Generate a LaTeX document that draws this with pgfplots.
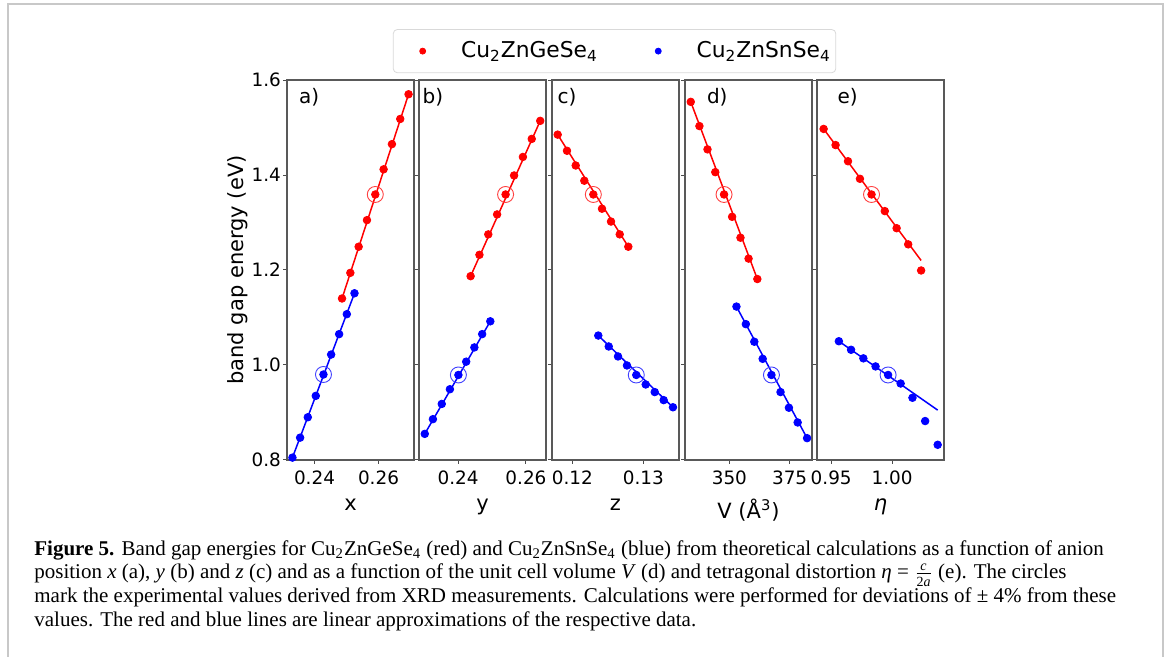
\documentclass[border=0pt]{standalone}
\usepackage{pgfplots}
\pgfplotsset{compat=1.18}
\usepackage{fontspec}
\setmainfont{Liberation Serif}
\newfontfamily\dejavu{DejaVu Sans}

\definecolor{framegray}{RGB}{200,200,200}

\pgfplotsset{
  panel/.style={
    scale only axis,
    width=63.5pt, height=190pt,
    anchor=south west,
    ymin=0.8, ymax=1.6,
    ytick={0.8,1.0,1.2,1.4,1.6},
    yticklabels={},
    tick align=outside,
    major tick length=2pt,
    xtick pos=bottom, ytick pos=left,
    axis line style={black!65, line width=0.6pt},
    tick style={black!70, line width=0.5pt},
    ticklabel style={font=\dejavu\fontsize{9.2}{10}\selectfont},
    label style={font=\dejavu\fontsize{10.5}{12}\selectfont},
    /pgf/number format/assume math mode=true,
    xticklabel style={/pgf/number format/.cd, fixed, fixed zerofill, precision=2},
    xlabel style={yshift=0pt},
  },
  pts/.style={only marks, mark=*, mark size=1.9pt, #1, mark options={draw=#1, fill=#1}},
  fit/.style={#1, line width=0.75pt, no marks, forget plot},
  exp/.style={only marks, mark=o, mark size=4pt, #1!75!white, mark options={line width=0.45pt}, forget plot},
}

\begin{document}
\begin{tikzpicture}
\useasboundingbox (0,0) rectangle (583.5pt,328.5pt);
\draw[framegray, line width=1pt] (4pt,0) -- (4pt,326.5pt) -- (581.5pt,326.5pt) -- (581.5pt,0);

% a) anion position x
\begin{axis}[panel, at={(143.5pt,98.5pt)},
  xmin=0.2314, xmax=0.2711, xtick={0.24,0.26}, xlabel={x},
  yticklabels={0.8,1.0,1.2,1.4,1.6},
  yticklabel style={xshift=2.5pt, /pgf/number format/.cd, fixed, fixed zerofill, precision=1},
  ylabel={band gap energy (eV)}, ylabel style={yshift=-5pt},
  legend style={at={(2.579,1.076)}, anchor=center, legend columns=2,
    draw=black!15, rounded corners=2pt, fill=white,
    font=\dejavu\fontsize{10.9}{12}\selectfont, inner xsep=0.5pt, inner ysep=4pt,
    /tikz/every even column/.append style={column sep=14pt}},
  legend image code/.code={\path (-14pt,0) (17pt,0); \draw[#1, mark size=1.5pt] plot coordinates {(0pt,0pt)};}]
\addplot[pts=red] coordinates {(0.2486,1.140)(0.2512,1.194)(0.2538,1.249)(0.2564,1.305)(0.2590,1.359)(0.2616,1.412)(0.2642,1.465)(0.2668,1.518)(0.2694,1.570)};
\addlegendentry{Cu\textsubscript{2}ZnGeSe\textsubscript{4}}
\addplot[pts=blue] coordinates {(0.2331,0.805)(0.2355,0.847)(0.2379,0.890)(0.2404,0.935)(0.2428,0.980)(0.2452,1.022)(0.2477,1.065)(0.2501,1.107)(0.2525,1.151)};
\addlegendentry{Cu\textsubscript{2}ZnSnSe\textsubscript{4}}
\addplot[fit=red] coordinates {(0.2486,1.140)(0.2694,1.570)};
\addplot[fit=blue] coordinates {(0.2331,0.805)(0.2525,1.151)};
\addplot[exp=red] coordinates {(0.2590,1.359)};
\addplot[exp=blue] coordinates {(0.2428,0.980)};
\node[font=\dejavu\fontsize{10}{12}\selectfont] at (rel axis cs:0.175,0.955) {a)};
\end{axis}

% b) anion position y
\begin{axis}[panel, at={(209.5pt,98.5pt)},
  xmin=0.2285, xmax=0.2659, xtick={0.24,0.26}, xlabel={y}]
\addplot[pts=red] coordinates {(0.2437,1.187)(0.2463,1.232)(0.2489,1.275)(0.2515,1.317)(0.2540,1.359)(0.2565,1.399)(0.2591,1.438)(0.2617,1.476)(0.2642,1.514)};
\addplot[pts=blue] coordinates {(0.2302,0.855)(0.2326,0.886)(0.2352,0.918)(0.2376,0.949)(0.2401,0.979)(0.2424,1.007)(0.2448,1.037)(0.2471,1.065)(0.2495,1.092)};
\addplot[fit=red] coordinates {(0.2437,1.187)(0.2642,1.514)};
\addplot[fit=blue] coordinates {(0.2302,0.855)(0.2495,1.092)};
\addplot[exp=red] coordinates {(0.2540,1.359)};
\addplot[exp=blue] coordinates {(0.2401,0.979)};
\node[font=\dejavu\fontsize{10}{12}\selectfont] at (rel axis cs:0.11,0.955) {b)};
\end{axis}

% c) anion position z
\begin{axis}[panel, at={(276pt,98.5pt)},
  xmin=0.11714, xmax=0.13503, xtick={0.12,0.13}, xlabel={z}]
\addplot[pts=red] coordinates {(0.11794,1.485)(0.11925,1.451)(0.12048,1.420)(0.12169,1.388)(0.12296,1.359)(0.12418,1.329)(0.12545,1.302)(0.12668,1.275)(0.12789,1.249)};
\addplot[pts=blue] coordinates {(0.12366,1.062)(0.12513,1.039)(0.12644,1.018)(0.12770,0.999)(0.12901,0.979)(0.13034,0.959)(0.13161,0.943)(0.13287,0.926)(0.13418,0.911)};
\addplot[fit=red] coordinates {(0.11794,1.485)(0.12789,1.249)};
\addplot[fit=blue] coordinates {(0.12366,1.062)(0.13418,0.911)};
\addplot[exp=red] coordinates {(0.12296,1.359)};
\addplot[exp=blue] coordinates {(0.12901,0.979)};
\node[font=\dejavu\fontsize{10}{12}\selectfont] at (rel axis cs:0.118,0.955) {c)};
\end{axis}

% d) unit cell volume
\begin{axis}[panel, at={(342.5pt,98.5pt)},
  xmin=331.57, xmax=384.3, xtick={350,375}, xlabel={V (Å\textsuperscript{3})},
  xticklabel style={/pgf/number format/.cd, fixed, precision=0}]
\addplot[pts=red] coordinates {(333.96,1.554)(337.56,1.503)(340.91,1.454)(344.14,1.406)(347.78,1.359)(351.13,1.312)(354.60,1.268)(357.96,1.224)(361.60,1.181)};
\addplot[pts=blue] coordinates {(352.93,1.123)(356.83,1.086)(360.34,1.049)(363.82,1.013)(367.46,0.979)(371.23,0.943)(374.71,0.910)(378.35,0.879)(382.25,0.846)};
\addplot[fit=red] coordinates {(333.96,1.554)(361.60,1.181)};
\addplot[fit=blue] coordinates {(352.93,1.123)(382.25,0.846)};
\addplot[exp=red] coordinates {(347.78,1.359)};
\addplot[exp=blue] coordinates {(367.46,0.979)};
\node[font=\dejavu\fontsize{10}{12}\selectfont] at (rel axis cs:0.254,0.955) {d)};
\end{axis}

% e) tetragonal distortion
\begin{axis}[panel, at={(408.5pt,98.5pt)},
  xmin=0.93836, xmax=1.04258, xtick={0.95,1.00}, xlabel={\itshape η}]
\addplot[pts=red] coordinates {(0.9438,1.497)(0.9536,1.463)(0.9638,1.429)(0.9736,1.392)(0.9831,1.359)(0.9940,1.324)(1.0037,1.288)(1.0132,1.254)(1.0238,1.199)};
\addplot[pts=blue] coordinates {(0.9563,1.050)(0.9663,1.032)(0.9764,1.014)(0.9864,0.997)(0.9967,0.979)(1.0070,0.961)(1.0167,0.931)(1.0271,0.882)(1.0374,0.832)};
\addplot[fit=red] coordinates {(0.9438,1.497)(1.0238,1.220)};
\addplot[fit=blue] coordinates {(0.9563,1.050)(1.0374,0.905)};
\addplot[exp=red] coordinates {(0.9831,1.359)};
\addplot[exp=blue] coordinates {(0.9967,0.979)};
\node[font=\dejavu\fontsize{10}{12}\selectfont] at (rel axis cs:0.242,0.955) {e)};
\end{axis}

\node[anchor=north west, align=left, inner sep=0pt, font=\fontsize{10.5}{11.9}\selectfont]
  at (17pt,58.5pt) {\textbf{Figure 5.} Band gap energies for Cu\textsubscript{2}ZnGeSe\textsubscript{4} (red) and Cu\textsubscript{2}ZnSnSe\textsubscript{4} (blue) from theoretical calculations as a function of anion\\
position \textit{x} (a), \textit{y} (b) and \textit{z} (c) and as a function of the unit cell volume \textit{V} (d) and tetragonal distortion \textit{η} = $\frac{\mbox{\scriptsize\itshape c}}{\mbox{\scriptsize 2\itshape a}}$ (e). The circles\\
mark the experimental values derived from XRD measurements. Calculations were performed for deviations of ± 4\% from these\\
values. The red and blue lines are linear approximations of the respective data.};
\end{tikzpicture}
\end{document}
